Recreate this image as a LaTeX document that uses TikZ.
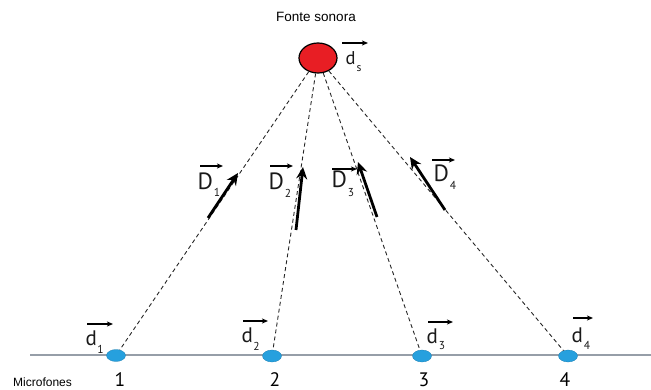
\documentclass[tikz,border=0pt]{standalone}
\usepackage{fontspec}
\setmainfont{PT Sans}
\newfontfamily\arialfont{Liberation Sans}
\usetikzlibrary{arrows.meta,shapes.geometric,calc}
\definecolor{micblue}{RGB}{38,160,222}
\definecolor{srcred}{RGB}{232,30,36}
\definecolor{lineGray}{RGB}{150,158,168}
\tikzset{
  mic/.style={ellipse,fill=micblue,draw=micblue!80!black,line width=0.3pt,minimum width=19pt,minimum height=12pt,inner sep=0pt},
  src/.style={ellipse,fill=srcred,draw=black,line width=1.2pt,minimum width=38pt,minimum height=30pt,inner sep=0pt},
  ray/.style={dash pattern=on 4pt off 3pt,line width=0.9pt,black!85},
  bigarrow/.style={line width=2.8pt,-{Stealth[length=12pt,width=11pt,inset=4pt]}},
  vecarrow/.style={line width=1.1pt,-{Stealth[length=6pt,width=5pt,inset=1.5pt]}},
  biglet/.style={anchor=base west,inner sep=0pt,font=\fontsize{23.5}{23.5}\selectfont,text=black!90},
  smalllet/.style={anchor=base west,inner sep=0pt,font=\fontsize{21}{21}\selectfont,text=black!90},
  subl/.style={anchor=base west,inner sep=0pt,font=\fontsize{11.5}{11.5}\selectfont,text=black!90},
  numl/.style={anchor=base,inner sep=0pt,font=\fontsize{19.5}{19.5}\selectfont},
}
\begin{document}
\begin{tikzpicture}[x=1pt,y=-1pt]
\useasboundingbox (0,0) rectangle (651,390);
% base line
\coordinate (L0) at (30,355);
\coordinate (L1) at (651,355);
\draw[lineGray,line width=1.4pt] (L0) -- (L1);
% source
\node[src] (S) at (318,58) {};
% microphones
\node[mic] (M1) at (116,355.5) {};
\node[mic] (M2) at (272,356) {};
\node[mic] (M3) at (422,356) {};
\node[mic] (M4) at (568,356) {};
% rays
\draw[ray] (S) -- (M1);
\draw[ray] (S) -- (M2);
\draw[ray] (S) -- (M3);
\draw[ray] (S) -- (M4);
% thick direction arrows
\coordinate (A1s) at (208,218); \coordinate (A1e) at (238,173);
\coordinate (A2s) at (296,230); \coordinate (A2e) at (303,167);
\coordinate (A3s) at (377,217); \coordinate (A3e) at (358,162);
\coordinate (A4s) at (445,210); \coordinate (A4e) at (410,157);
\draw[bigarrow] (A1s) -- (A1e);
\draw[bigarrow] (A2s) -- (A2e);
\draw[bigarrow] (A3s) -- (A3e);
\draw[bigarrow] (A4s) -- (A4e);
% D labels
\node[biglet] (D1) at (197.5,190) {D};
\node[subl] (D1s) at ($(D1.base east)+(0.5,7)$) {1};
\draw[vecarrow] (200,166) -- (223,166);
\node[biglet] (D2) at (268.5,190) {D};
\node[subl] (D2s) at ($(D2.base east)+(0.5,8)$) {2};
\draw[vecarrow] (270,166) -- (293,166);
\node[biglet] (D3) at (331.5,187.5) {D};
\node[subl] (D3s) at ($(D3.base east)+(0.5,9)$) {3};
\draw[vecarrow] (332,169) -- (357,169);
\node[biglet] (D4) at (433.5,182) {D};
\node[subl] (D4s) at ($(D4.base east)+(0.5,8)$) {4};
\draw[vecarrow] (432,160) -- (455,160);
% d labels
\node[smalllet] (d1) at (85.5,345) {d};
\node[subl] (d1s) at ($(d1.base east)+(0,8)$) {1};
\draw[vecarrow] (87,324) -- (113,324);
\node[smalllet] (d2) at (241.5,342) {d};
\node[subl] (d2s) at ($(d2.base east)+(0,8)$) {2};
\draw[vecarrow] (243,321) -- (268,321);
\node[smalllet] (d3) at (426.5,343) {d};
\node[subl] (d3s) at ($(d3.base east)+(0.5,6)$) {3};
\draw[vecarrow] (428,322) -- (453,322);
\node[smalllet] (d4) at (571.5,342) {d};
\node[subl] (d4s) at ($(d4.base east)+(0.5,7)$) {4};
\draw[vecarrow] (573,318) -- (593,318);
\node[smalllet,font=\fontsize{18.5}{18.5}\selectfont] (ds) at (345.5,64.5) {d};
\node[subl] (dss) at ($(ds.base east)+(0.5,7)$) {s};
\draw[vecarrow] (342,43) -- (368,43);
% numbers
\node[numl] (n1) at (120,386) {1};
\node[numl] (n2) at (275,386) {2};
\node[numl] (n3) at (424,386) {3};
\node[numl] (n4) at (565,386) {4};
% titles
\node[anchor=base,inner sep=0pt,font=\arialfont\fontsize{13.5}{13.5}\selectfont] (title) at (316,22) {Fonte sonora};
\node[anchor=base west,inner sep=0pt,font=\arialfont\fontsize{12}{12}\selectfont] (mics) at (13,386) {Microfones};
\end{tikzpicture}
\end{document}
